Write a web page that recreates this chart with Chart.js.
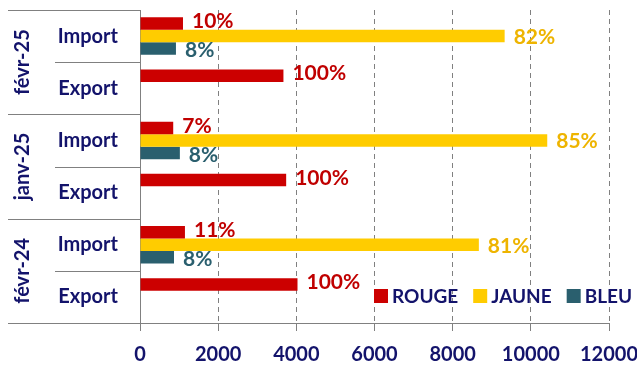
<!DOCTYPE html>
<html>
<head>
<meta charset="utf-8">
<script src="https://cdn.jsdelivr.net/npm/chart.js@4/dist/chart.umd.min.js"></script>
<style>
  html, body { margin: 0; padding: 0; background: #fff; }
  #wrap { width: 637px; height: 367px; position: relative; }
</style>
</head>
<body>
<div id="wrap"><canvas id="chart"></canvas></div>
<script>
const months = ['févr-25', 'janv-25', 'févr-24'];
const flows = ['Import', 'Export'];
const seriesNames = ['ROUGE', 'JAUNE', 'BLEU'];

// one value per row: févr-25 Import, févr-25 Export, janv-25 Import, ...
const rouge = [1100, 3670, 850, 3740, 1150, 4030];
const jaune = [9330, null, 10420, null, 8670, null];
const bleu = [920, null, 1020, null, 870, null];

const xTicks = [0, 2000, 4000, 6000, 8000, 10000, 12000];

const navy = '#13136b';
const gray = '#808080';
const barColors = ['#cc0000', '#ffcc00', '#2a5f6e'];
const labelColors = ['#c00000', '#eeb400', '#2a5f6e'];
const labelShift = [-2, 1, 2];
const font = 'Lato';

const rowLabels = [];
months.forEach(() => flows.forEach(f => rowLabels.push(f)));

// percent of the row total, written right of each bar
const valueLabels = {
    id: 'valueLabels',
    afterDatasetsDraw(chart) {
        const ctx = chart.ctx;
        const sets = chart.data.datasets;
        ctx.save();
        ctx.font = 'bold 21px ' + font;
        ctx.textBaseline = 'middle';
        ctx.textAlign = 'left';
        sets.forEach((ds, di) => {
            const meta = chart.getDatasetMeta(di);
            meta.data.forEach((bar, i) => {
                const v = ds.data[i];
                if (v == null) return;
                let total = 0;
                sets.forEach(s => { total += s.data[i] || 0; });
                const pct = Math.round(v / total * 100) + '%';
                ctx.fillStyle = labelColors[di];
                ctx.fillText(pct, bar.x + 9, bar.y + labelShift[di]);
            });
        });
        ctx.restore();
    }
};

// table lines, month names, legend
const categoryTable = {
    id: 'categoryTable',
    afterDraw(chart) {
        const ctx = chart.ctx;
        const area = chart.chartArea;
        const rows = rowLabels.length;
        const rowH = (area.bottom - area.top) / rows;
        const left = 8;
        ctx.save();
        ctx.strokeStyle = gray;
        ctx.lineWidth = 1;
        ctx.beginPath();
        for (let r = 0; r <= rows; r++) {
            const y = Math.round(area.top + r * rowH) + 0.5;
            const x0 = (r % flows.length === 0) ? left : 55;
            ctx.moveTo(x0, y);
            ctx.lineTo(area.left, y);
        }
        ctx.stroke();

        ctx.fillStyle = navy;
        ctx.font = 'bold 20px ' + font;
        ctx.textAlign = 'center';
        ctx.textBaseline = 'middle';
        months.forEach((m, i) => {
            const yc = area.top + (i * flows.length + flows.length / 2) * rowH;
            ctx.save();
            ctx.translate(23, yc);
            ctx.rotate(-Math.PI / 2);
            ctx.fillText(m, 0, 0);
            ctx.restore();
        });

        // legend inside the plot, bottom right
        let x = 374;
        const y = 296;
        ctx.font = 'bold 19px ' + font;
        ctx.textAlign = 'left';
        seriesNames.forEach((name, i) => {
            ctx.fillStyle = barColors[i];
            ctx.fillRect(x, y - 7, 14, 14);
            ctx.fillStyle = navy;
            ctx.fillText(name, x + 18, y + 1);
            x += 18 + ctx.measureText(name).width + 15;
        });
        ctx.restore();
    }
};

new Chart(document.getElementById('chart'), {
    type: 'bar',
    data: {
        labels: rowLabels,
        datasets: [rouge, jaune, bleu].map((d, i) => ({
            label: seriesNames[i],
            data: d,
            backgroundColor: barColors[i],
            borderWidth: 0,
            categoryPercentage: 0.72,
            barPercentage: 1.0
        }))
    },
    options: {
        indexAxis: 'y',
        responsive: true,
        maintainAspectRatio: false,
        animation: false,
        layout: { padding: { top: 10, right: 28, left: 8, bottom: 0 } },
        plugins: {
            legend: { display: false },
            tooltip: { enabled: false }
        },
        scales: {
            x: {
                min: 0,
                max: 12000,
                afterBuildTicks: scale => { scale.ticks = xTicks.map(v => ({ value: v })); },
                afterFit: scale => {
                    scale.height = 44;
                    scale.paddingLeft = 0;
                    scale.paddingRight = 0;
                },
                border: { color: gray, width: 1, dash: [5, 4] },
                grid: {
                    color: c => (c.tick && c.tick.value === 0) ? 'rgba(0,0,0,0)' : gray,
                    tickColor: gray,
                    tickBorderDash: [],
                    tickLength: 8,
                    lineWidth: 1
                },
                ticks: {
                    color: navy,
                    font: { family: font, size: 20, weight: 'bold' },
                    padding: 12,
                    maxRotation: 0,
                    callback: v => String(v)
                }
            },
            y: {
                afterFit: scale => {
                    scale.width = 132;
                    scale.paddingTop = 0;
                    scale.paddingBottom = 0;
                },
                border: { color: gray, width: 1 },
                grid: { display: false, drawTicks: false },
                ticks: {
                    color: navy,
                    font: { family: font, size: 20, weight: 'bold' },
                    padding: 22
                }
            }
        }
    },
    plugins: [valueLabels, categoryTable]
});
</script>
</body>
</html>
